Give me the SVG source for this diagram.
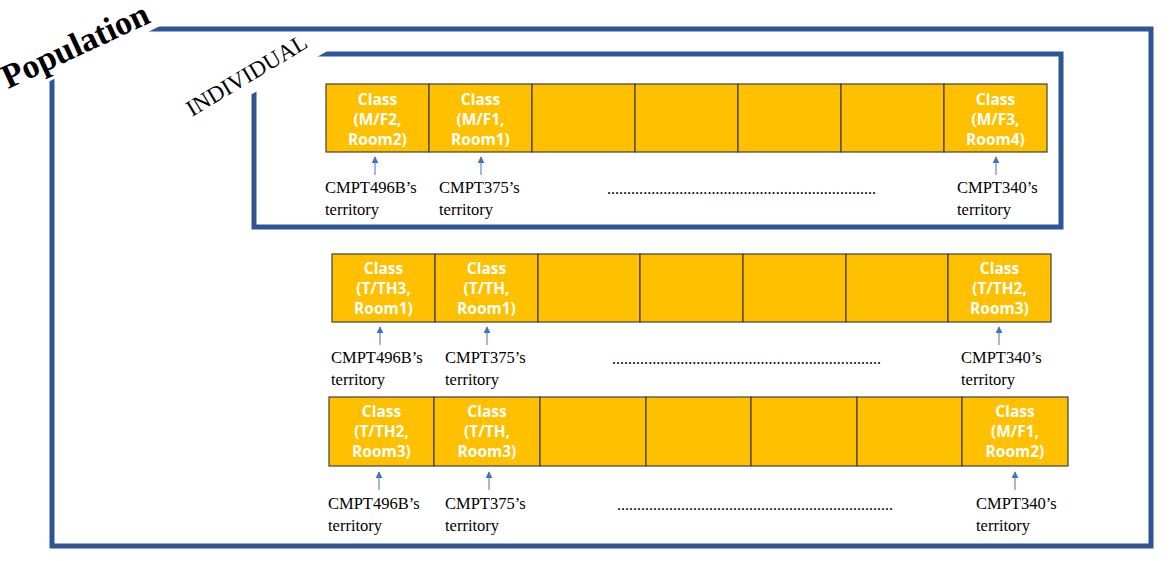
<svg xmlns="http://www.w3.org/2000/svg" width="1174" height="561" viewBox="0 0 1174 561">
<defs>
<style>
.frame{fill:none;stroke:#2F5597;stroke-width:5}
.mask{fill:#FFFFFF}
.cell{fill:#FFC000;stroke:#404040;stroke-width:1.2}
.ct{font-family:"Open Sans","Noto Sans",sans-serif;font-weight:bold;font-size:15.5px;fill:#FFFFFF;text-anchor:middle}
.lb{font-family:"Liberation Serif","Times New Roman",serif;font-size:16.5px;fill:#000}
.dots{font-family:"Liberation Serif","Times New Roman",serif;font-size:16px;fill:#000}
.arr{stroke:#4472C4;stroke-width:1;fill:none;marker-end:url(#ah)}
</style>
<marker id="ah" viewBox="0 0 10 10" refX="9" refY="5" markerWidth="7" markerHeight="7" markerUnits="userSpaceOnUse" orient="auto">
<path d="M0,0 L10,5 L0,10 z" fill="#4472C4"/>
</marker>
</defs>
<rect width="1174" height="561" fill="#FFFFFF"/>

<g id="population-frame">
<rect class="frame" x="52" y="29" width="1099" height="517"/>
<polygon class="mask" points="0,0 212,0 0,106"/>
<text x="8" y="89" transform="rotate(-25 8 89)" font-family="Liberation Serif,'Times New Roman',serif" font-weight="bold" font-size="34" fill="#000">Population</text>
</g>

<g id="individual-frame">
<rect class="frame" x="254" y="54" width="807" height="173"/>
<polygon class="mask" points="240,45 338,45 240,101"/>
<text x="192" y="117" transform="rotate(-31 192 117)" font-family="Liberation Serif,'Times New Roman',serif" font-size="23" fill="#000">INDIVIDUAL</text>
</g>

<g id="row1">
<rect class="cell" x="326" y="84" width="103" height="68"/>
<rect class="cell" x="429" y="84" width="103" height="68"/>
<rect class="cell" x="532" y="84" width="103" height="68"/>
<rect class="cell" x="635" y="84" width="103" height="68"/>
<rect class="cell" x="738" y="84" width="103" height="68"/>
<rect class="cell" x="841" y="84" width="103" height="68"/>
<rect class="cell" x="944" y="84" width="103" height="68"/>
<text class="ct" x="377.5" y="105">Class<tspan x="377.5" y="125">(M/F2,</tspan><tspan x="377.5" y="145">Room2)</tspan></text>
<text class="ct" x="480.5" y="105">Class<tspan x="480.5" y="125">(M/F1,</tspan><tspan x="480.5" y="145">Room1)</tspan></text>
<text class="ct" x="995.5" y="105">Class<tspan x="995.5" y="125">(M/F3,</tspan><tspan x="995.5" y="145">Room4)</tspan></text>
<text class="lb" x="325" y="193">CMPT496B’s<tspan x="325" y="215">territory</tspan></text>
<text class="lb" x="439" y="193">CMPT375’s<tspan x="439" y="215">territory</tspan></text>
<text class="lb" x="957" y="193">CMPT340’s<tspan x="957" y="215">territory</tspan></text>
<text class="dots" x="607" y="194" textLength="269" lengthAdjust="spacing">...................................................................</text>
</g>

<g id="row2">
<rect class="cell" x="332" y="254" width="103" height="68"/>
<rect class="cell" x="435" y="254" width="103" height="68"/>
<rect class="cell" x="538" y="254" width="102" height="68"/>
<rect class="cell" x="640" y="254" width="103" height="68"/>
<rect class="cell" x="743" y="254" width="103" height="68"/>
<rect class="cell" x="846" y="254" width="102" height="68"/>
<rect class="cell" x="948" y="254" width="103" height="68"/>
<text class="ct" x="383.5" y="274">Class<tspan x="383.5" y="294">(T/TH3,</tspan><tspan x="383.5" y="314">Room1)</tspan></text>
<text class="ct" x="486.5" y="274">Class<tspan x="486.5" y="294">(T/TH,</tspan><tspan x="486.5" y="314">Room1)</tspan></text>
<text class="ct" x="999.5" y="274">Class<tspan x="999.5" y="294">(T/TH2,</tspan><tspan x="999.5" y="314">Room3)</tspan></text>
<text class="lb" x="331" y="363">CMPT496B’s<tspan x="331" y="385">territory</tspan></text>
<text class="lb" x="445" y="363">CMPT375’s<tspan x="445" y="385">territory</tspan></text>
<text class="lb" x="961" y="363">CMPT340’s<tspan x="961" y="385">territory</tspan></text>
<text class="dots" x="612" y="364" textLength="269" lengthAdjust="spacing">...................................................................</text>
</g>

<g id="row3">
<rect class="cell" x="329" y="397" width="105" height="69"/>
<rect class="cell" x="434" y="397" width="106" height="69"/>
<rect class="cell" x="540" y="397" width="106" height="69"/>
<rect class="cell" x="646" y="397" width="105" height="69"/>
<rect class="cell" x="751" y="397" width="106" height="69"/>
<rect class="cell" x="857" y="397" width="105" height="69"/>
<rect class="cell" x="962" y="397" width="106" height="69"/>
<text class="ct" x="381.5" y="417">Class<tspan x="381.5" y="437">(T/TH2,</tspan><tspan x="381.5" y="457">Room3)</tspan></text>
<text class="ct" x="487" y="417">Class<tspan x="487" y="437">(T/TH,</tspan><tspan x="487" y="457">Room3)</tspan></text>
<text class="ct" x="1015" y="417">Class<tspan x="1015" y="437">(M/F1,</tspan><tspan x="1015" y="457">Room2)</tspan></text>
<text class="lb" x="328" y="509">CMPT496B’s<tspan x="328" y="531">territory</tspan></text>
<text class="lb" x="445" y="509">CMPT375’s<tspan x="445" y="531">territory</tspan></text>
<text class="lb" x="976" y="509">CMPT340’s<tspan x="976" y="531">territory</tspan></text>
<text class="dots" x="617" y="510" textLength="276" lengthAdjust="spacing">.....................................................................</text>
</g>

<g id="connectors">
<line class="arr" x1="375" y1="175" x2="375" y2="157"/>
<line class="arr" x1="481" y1="175" x2="481" y2="157"/>
<line class="arr" x1="996" y1="175" x2="996" y2="157"/>
<line class="arr" x1="380" y1="345" x2="380" y2="327"/>
<line class="arr" x1="487" y1="345" x2="487" y2="327"/>
<line class="arr" x1="999" y1="345" x2="999" y2="327"/>
<line class="arr" x1="379" y1="490" x2="379" y2="472"/>
<line class="arr" x1="489" y1="490" x2="489" y2="472"/>
<line class="arr" x1="1015" y1="490" x2="1015" y2="472"/>
</g>
</svg>
